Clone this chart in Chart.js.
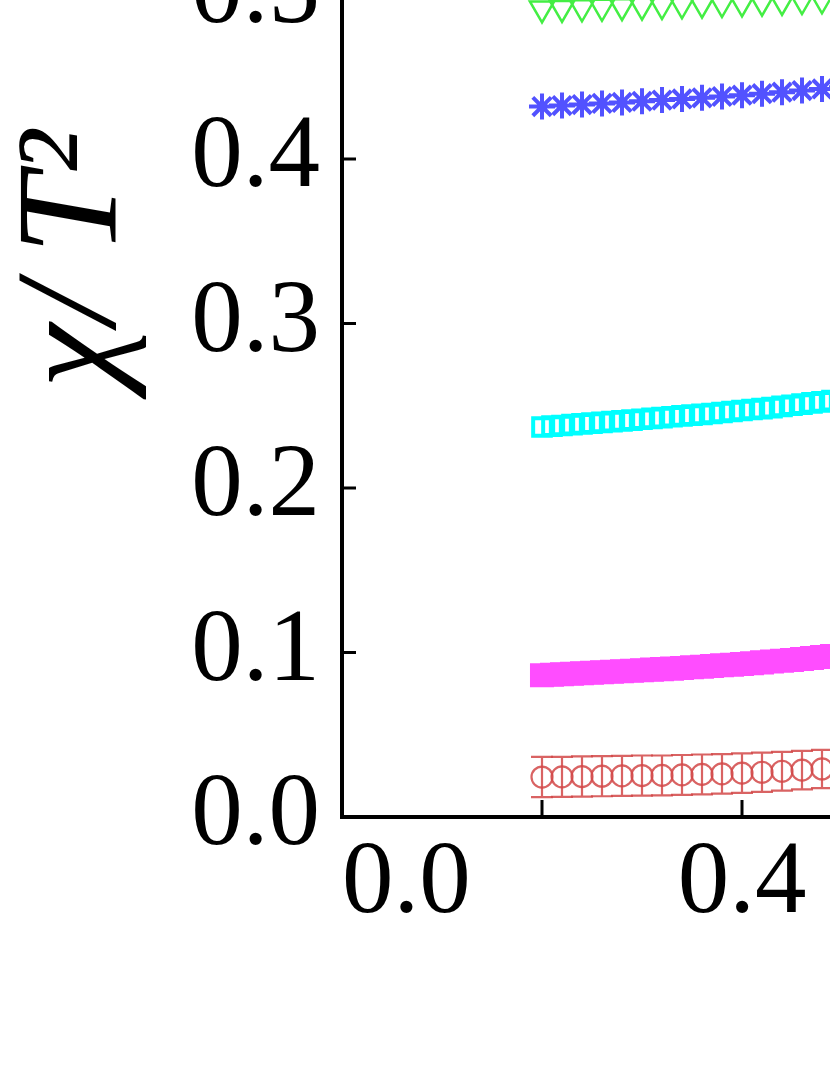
<!DOCTYPE html>
<html><head><meta charset="utf-8">
<script src="https://cdn.jsdelivr.net/npm/chart.js@4.4.1/dist/chart.umd.min.js"></script>
<style>
html,body{margin:0;padding:0;width:830px;height:1075px;overflow:hidden;background:#fff;}
#wrap{position:absolute;left:0;top:-400px;width:1120px;height:1475px;}
canvas{display:block;}
</style></head><body>
<div id="wrap"><canvas id="c" width="1120" height="1475"></canvas></div>
<script>
// ---- data ----
const xStep2 = [0.20,0.22,0.24,0.26,0.28,0.30,0.32,0.34,0.36,0.38,0.40,0.42,0.44,0.46,0.48,0.50];
const xStep1 = [0.20,0.21,0.22,0.23,0.24,0.25,0.26,0.27,0.28,0.29,0.30,0.31,0.32,0.33,0.34,0.35,0.36,0.37,0.38,0.39,0.40,0.41,0.42,0.43,0.44,0.45,0.46,0.47,0.48,0.49];

const yGreen = [0.4915,0.4918,0.4922,0.4925,0.4929,0.4932,0.4936,0.4940,0.4944,0.4948,0.4952,0.4956,0.4961,0.4966,0.4971,0.4976];
const yBlue  = [0.4319,0.4325,0.4331,0.4338,0.4344,0.4351,0.4358,0.4365,0.4372,0.4380,0.4388,0.4397,0.4406,0.4416,0.4426,0.4436];
const yCyan  = [0.2371,0.2376,0.2380,0.2385,0.2390,0.2394,0.2399,0.2403,0.2408,0.2413,0.2418,0.2423,0.2428,0.2433,0.2438,0.2443,0.2448,0.2453,0.2459,0.2465,0.2471,0.2477,0.2483,0.2489,0.2496,0.2503,0.2510,0.2517,0.2524,0.2531];
const yMagenta = [0.0862,0.0865,0.0868,0.0871,0.0874,0.0877,0.0880,0.0883,0.0886,0.0889,0.0892,0.0896,0.0899,0.0902,0.0906,0.0910,0.0914,0.0918,0.0922,0.0926,0.0930,0.0935,0.0940,0.0945,0.0950,0.0955,0.0961,0.0967,0.0973,0.0979];
const xRed = [0.20,0.22,0.24,0.26,0.28,0.30,0.32,0.34,0.36,0.38,0.40,0.42,0.44,0.46,0.48];
const yRed = [0.0243,0.0244,0.0246,0.0248,0.0250,0.0252,0.0253,0.0256,0.0259,0.0262,0.0267,0.0272,0.0278,0.0285,0.0292];
const errRed = [0.0122,0.0122,0.0122,0.0122,0.0122,0.0122,0.0121,0.0121,0.0121,0.0120,0.0120,0.0119,0.0118,0.0117,0.0116];

const xTickValues = [0.0,0.2,0.4,0.6];
const xTickLabels = ['0.0','','0.4',''];
const yTickLabels = ['0.0','0.1','0.2','0.3','0.4','0.5','0.6'];
const yTitle = 'χ/\u2009T²';

const pts = (xs, ys) => xs.map((x, i) => ({x: x, y: ys[i]}));

const RED = 'rgba(210,72,72,0.85)';

const errorBars = {
  id: 'errorBars',
  afterDatasetsDraw(chart) {
    const ctx = chart.ctx, xs = chart.scales.x, ys = chart.scales.y;
    ctx.save();
    ctx.strokeStyle = RED; ctx.lineWidth = 2.2;
    xRed.forEach((x, i) => {
      const px = xs.getPixelForValue(x);
      const lo = ys.getPixelForValue(yRed[i] - errRed[i]);
      const hi = ys.getPixelForValue(yRed[i] + errRed[i]);
      ctx.beginPath();
      ctx.moveTo(px, lo); ctx.lineTo(px, hi);
      ctx.moveTo(px - 11, lo); ctx.lineTo(px + 11, lo);
      ctx.moveTo(px - 11, hi); ctx.lineTo(px + 11, hi);
      ctx.stroke();
    });
    ctx.restore();
  }
};

const innerTicks = {
  id: 'innerTicks',
  afterDraw(chart) {
    const ctx = chart.ctx, xs = chart.scales.x, ys = chart.scales.y, a = chart.chartArea;
    ctx.save();
    ctx.strokeStyle = '#000'; ctx.lineWidth = 3;
    ctx.beginPath();
    xTickValues.forEach(v => {
      const px = xs.getPixelForValue(v);
      ctx.moveTo(px, a.bottom); ctx.lineTo(px, a.bottom - 17);
    });
    yTickLabels.forEach(l => {
      const py = ys.getPixelForValue(parseFloat(l));
      ctx.moveTo(a.left, py); ctx.lineTo(a.left + 14, py);
    });
    ctx.stroke();
    ctx.restore();
  }
};

const tickFont = {family: "'Liberation Serif', 'Times New Roman', serif", size: 103};

new Chart(document.getElementById('c'), {
  type: 'scatter',
  data: {
    datasets: [
      {data: pts(xStep2, yGreen), pointStyle: 'triangle', rotation: 180, radius: 14, borderWidth: 2.5,
       borderColor: '#44ee44', backgroundColor: 'rgba(0,0,0,0)'},
      {data: pts(xStep2, yBlue), pointStyle: 'star', radius: 13, borderWidth: 4,
       borderColor: '#5252ff', backgroundColor: 'rgba(0,0,0,0)'},
      {data: pts(xStep1, yCyan), pointStyle: 'rect', radius: 12.5, borderWidth: 4,
       borderColor: '#00ffff', backgroundColor: 'rgba(0,0,0,0)'},
      {data: pts(xStep1, yMagenta), pointStyle: 'rect', radius: 17, borderWidth: 0,
       borderColor: '#ff4dff', backgroundColor: '#ff4dff'},
      {data: pts(xRed, yRed), pointStyle: 'circle', radius: 10.5, borderWidth: 2.2,
       borderColor: RED, backgroundColor: 'rgba(0,0,0,0)'}
    ]
  },
  options: {
    responsive: false,
    devicePixelRatio: 1,
    animation: false,
    events: [],
    layout: {padding: {left: 0, top: 101.69, right: 178, bottom: 0}},
    plugins: {legend: {display: false}, tooltip: {enabled: false}},
    scales: {
      x: {
        type: 'linear', min: 0, max: 0.6,
        afterBuildTicks(s) { s.ticks = xTickValues.map(v => ({value: v})); },
        afterFit(s) { s.height = 258; },
        grid: {display: false, drawTicks: false},
        border: {display: true, color: '#000', width: 4},
        ticks: {
          align: 'inner', padding: 6, color: '#000', font: tickFont, maxRotation: 0, autoSkip: false,
          callback(v, i) { return xTickLabels[i]; }
        }
      },
      y: {
        type: 'linear', min: 0, max: 0.678,
        afterBuildTicks(s) { s.ticks = yTickLabels.map(l => ({value: parseFloat(l)})); },
        afterFit(s) { s.width = 342; },
        grid: {display: false, drawTicks: false},
        border: {display: true, color: '#000', width: 4},
        ticks: {
          padding: 22, color: '#000', font: tickFont, autoSkip: false,
          callback(v, i) { return yTickLabels[i]; }
        },
        title: {
          display: true, text: yTitle, color: '#000',
          font: {family: "'Liberation Serif', 'Times New Roman', serif", size: 145, style: 'italic', lineHeight: 1},
          padding: {top: 4, bottom: 0}
        }
      }
    }
  },
  plugins: [errorBars, innerTicks]
});
</script>
</body></html>
